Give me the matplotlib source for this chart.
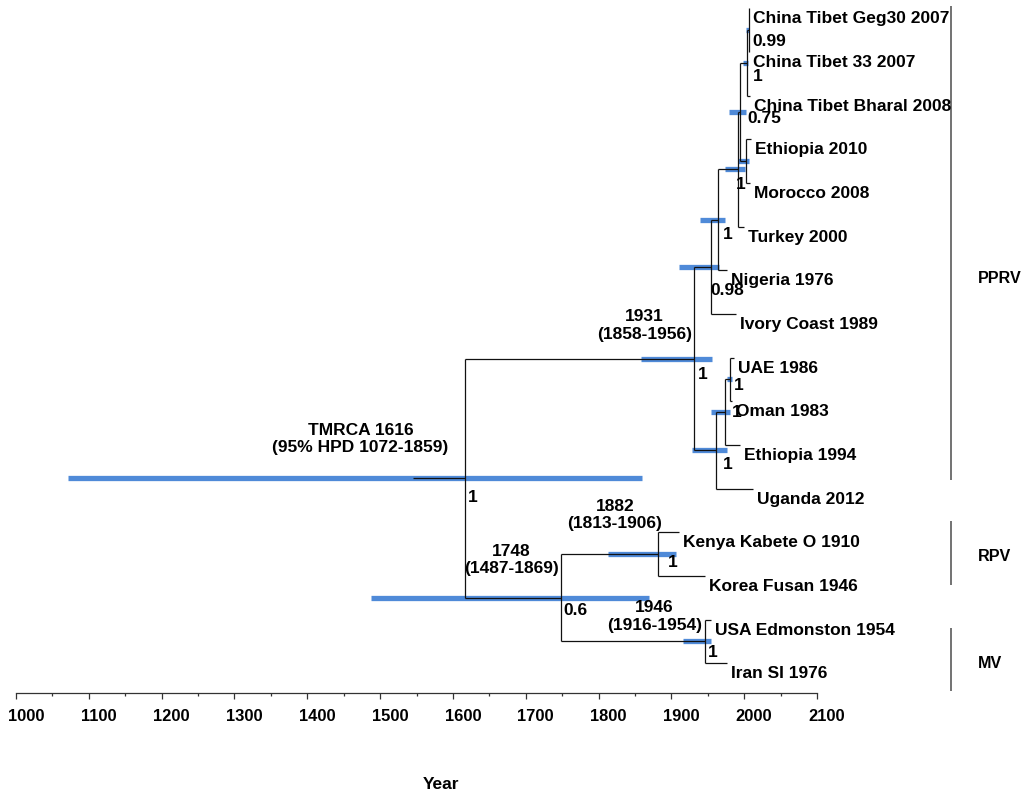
import matplotlib
matplotlib.use("Agg")
import matplotlib.pyplot as plt
import matplotlib.font_manager as fm
from matplotlib.transforms import ScaledTranslation, blended_transform_factory

# ---------------------------------------------------------------- data
# Sampled isolates, top to bottom, and their collection years
tip_names = [
    "China Tibet Geg30 2007", "China Tibet 33 2007", "China Tibet Bharal 2008",
    "Ethiopia 2010", "Morocco 2008", "Turkey 2000", "Nigeria 1976",
    "Ivory Coast 1989", "UAE 1986", "Oman 1983", "Ethiopia 1994",
    "Uganda 2012", "Kenya Kabete O 1910", "Korea Fusan 1946",
    "USA Edmonston 1954", "Iran SI 1976",
]
tip_years = [2007, 2007, 2008, 2010, 2008, 2000, 1976, 1989, 1986, 1983,
             1994, 2012, 1910, 1946, 1954, 1976]

# Internal nodes (children first), median ages, 95% HPD and posteriors
node_names = ["N1", "N2", "N4", "N3", "N5", "N6", "N7", "B2", "B1", "B",
              "PPRV", "RPV", "MV", "RM", "ROOT"]
node_children = [(0, 1), ("N1", 2), (3, 4), ("N2", "N4"), ("N3", 5),
                 ("N5", 6), ("N6", 7), (8, 9), ("B2", 10), ("B1", 11),
                 ("N7", "B"), (12, 13), (14, 15), ("RPV", "MV"),
                 ("PPRV", "RM")]
node_years = [2006, 2004, 2003, 1994, 1991, 1964, 1954, 1981, 1973, 1961,
              1931, 1882, 1946, 1748, 1616]
hpd_low = [2003, 1998, 1991, 1979, 1973, 1940, 1910, 1976, 1954, 1929,
           1858, 1813, 1916, 1487, 1072]
hpd_high = [2007, 2005, 2006, 2003, 2001, 1973, 1965, 1983, 1980, 1977,
            1956, 1906, 1954, 1869, 1859]
posterior = ["0.99", "1", None, "0.75", "1", "1", "0.98", "1", "1", "1",
             "1", "1", "1", "0.6", "1"]
root_stem_start = 1545

# Nodes whose age is written on the tree
dated_nodes = ["ROOT", "PPRV", "RM", "RPV", "MV"]

# Virus groups and the tips they contain
clade_names = ["PPRV", "RPV", "MV"]
clade_tips = [(0, 11), (12, 13), (14, 15)]

x_ticks = list(range(1000, 2101, 100))

# ---------------------------------------------------------------- layout
# pixel offsets (dx right, dy down) of the posterior labels from their node
post_offset = {
    "ROOT": (3, 12), "PPRV": (4, 8), "RM": (3, 5), "RPV": (10, 1),
    "MV": (3, 4), "B": (7, 7), "B1": (7, -7), "B2": (4, -1),
    "N7": (0, 16), "N6": (5, 7), "N5": (-2, 8), "N3": (8, -1),
    "N2": (6, 6), "N1": (4, 4),
}
# pixel offsets (dx right, dy up) of the age labels, right-aligned
date_offset = {
    "ROOT": (-16, 39), "PPRV": (-2, 33), "RM": (-2, 38),
    "RPV": (4, 39), "MV": (-3, 25),
}
clade_span = {"PPRV": (-0.05, 10.8), "RPV": (11.75, 13.2), "MV": (14.2, 15.63)}
clade_label_y = {"PPRV": 6.18, "RPV": 12.55, "MV": 15.0}

available = {f.name for f in fm.fontManager.ttflist}
if "Liberation Sans Narrow" in available:
    FAMILY, SCALE = "Liberation Sans Narrow", 1.0
else:
    FAMILY, SCALE = "Liberation Sans", 0.86
plt.rcParams["font.family"] = [FAMILY, "DejaVu Sans"]
plt.rcParams["font.weight"] = "bold"

FS_LABEL = 14.5 * SCALE
FS_CLADE = 13.5 * SCALE
FS_TICK = 13.8 * SCALE

BAR_COLOR = "#4f8ad8"
LINE_COLOR = "#111111"

# ---------------------------------------------------------------- tree geometry
W, H, DPI = 1021, 799, 100
fig = plt.figure(figsize=(W / DPI, H / DPI), dpi=DPI)
ax = fig.add_axes([16 / W, 1 - 692.7 / H, 801 / W, 692.7 / H])
ax.set_xlim(1000, 2100)
ax.set_ylim(15.673, -0.189)

pos = {}
for i, yr in enumerate(tip_years):
    pos[i] = (yr, float(i))
for name, kids, yr in zip(node_names, node_children, node_years):
    ys = [pos[k][1] for k in kids]
    pos[name] = (yr, sum(ys) / len(ys))

# HPD bars
for name, lo, hi in zip(node_names, hpd_low, hpd_high):
    ax.hlines(pos[name][1], lo, hi, color=BAR_COLOR, lw=3.8,
              capstyle="butt", zorder=1)

# branches
lw = 0.9
for name, kids in zip(node_names, node_children):
    nx, ny = pos[name]
    ys = [pos[k][1] for k in kids]
    ax.vlines(nx, min(ys), max(ys), color=LINE_COLOR, lw=lw, zorder=3)
    for k in kids:
        kx, ky = pos[k]
        ax.hlines(ky, nx, kx, color=LINE_COLOR, lw=lw, zorder=3)
rx, ry = pos["ROOT"]
ax.hlines(ry, root_stem_start, rx, color=LINE_COLOR, lw=lw, zorder=3)

# tip labels
for i, name in enumerate(tip_names):
    ax.annotate(name, xy=pos[i], xytext=(4, -15), textcoords="offset pixels",
                ha="left", va="baseline", fontsize=FS_LABEL,
                fontweight="bold", zorder=4)

# posterior support
for name, p in zip(node_names, posterior):
    if p is None:
        continue
    dx, dy = post_offset[name]
    ax.annotate(p, xy=pos[name], xytext=(dx, -dy), textcoords="offset pixels",
                ha="left", va="top", fontsize=FS_LABEL, fontweight="bold",
                zorder=4)

# node ages with 95% HPD
for name in dated_nodes:
    j = node_names.index(name)
    yr, lo, hi = node_years[j], hpd_low[j], hpd_high[j]
    if name == "ROOT":
        txt = f"TMRCA {yr}\n(95% HPD {lo}-{hi})"
    else:
        txt = f"{yr}\n({lo}-{hi})"
    dx, dy = date_offset[name]
    ax.annotate(txt, xy=pos[name], xytext=(dx, dy), textcoords="offset pixels",
                ha="right", va="center", multialignment="center",
                linespacing=1.2, fontsize=FS_LABEL, fontweight="bold",
                zorder=4)

# virus group brackets
btrans = blended_transform_factory(ax.transAxes, ax.transData)
bar_x = (951 - 16) / 801
lab_x = (978 - 16) / 801
for cname in clade_names:
    y0, y1 = clade_span[cname]
    ax.plot([bar_x, bar_x], [y0, y1], transform=btrans, color="#5a5a5a",
            lw=1.2, clip_on=False, solid_capstyle="butt")
    ax.text(lab_x, clade_label_y[cname], cname, transform=btrans,
            ha="left", va="center", fontsize=FS_CLADE, fontweight="bold")

# ---------------------------------------------------------------- axis
for side in ("left", "top", "right"):
    ax.spines[side].set_visible(False)
ax.spines["bottom"].set_color("#333333")
ax.spines["bottom"].set_linewidth(0.9)
ax.set_yticks([])
ax.set_xticks(x_ticks)
ax.set_xticks([t + 50 for t in x_ticks[:-1]], minor=True)
ax.tick_params(axis="x", which="major", length=4.5, width=0.9, pad=7,
               labelsize=FS_TICK, color="#333333")
ax.tick_params(axis="x", which="minor", length=2.3, width=0.9,
               color="#333333")
shift = ScaledTranslation(10 / DPI, 0, fig.dpi_scale_trans)
for lab in ax.get_xticklabels():
    lab.set_fontweight("bold")
    lab.set_transform(lab.get_transform() + shift)

ax.set_xlabel("Year", fontsize=FS_LABEL, fontweight="bold")
ax.xaxis.set_label_coords((441 - 16) / 801, (692.7 - 777) / 692.7)

fig.savefig("out.png", dpi=DPI)
